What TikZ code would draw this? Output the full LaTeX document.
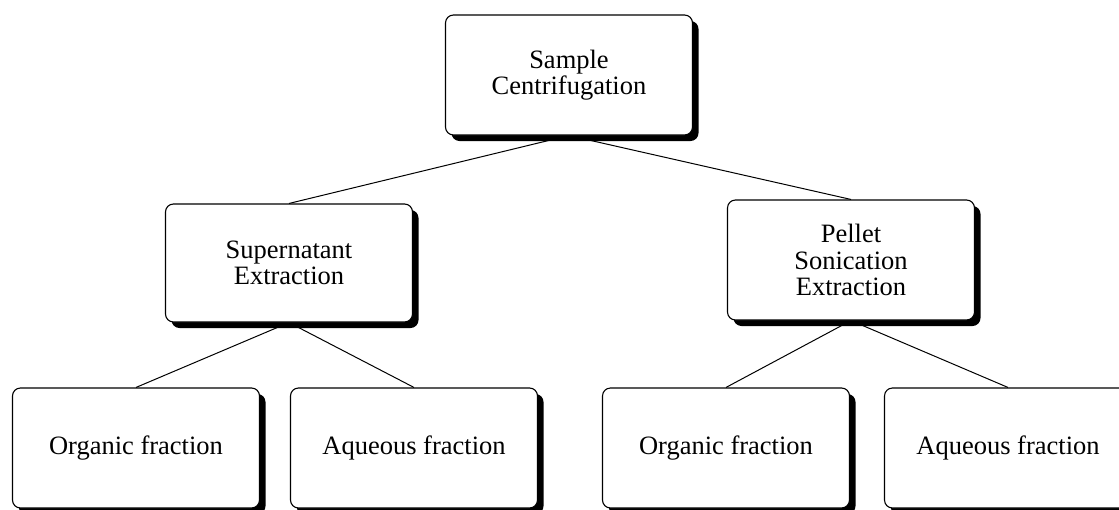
\documentclass[tikz,border=0pt]{standalone}
\usepackage{fontspec}
\setmainfont{Liberation Serif}
\usetikzlibrary{backgrounds,shadows,positioning}

\begin{document}
\begin{tikzpicture}[x=1pt, y=-1pt,
      main/.style = {draw, rounded corners=8pt, line width=1.1pt, fill=white,
        minimum width=247pt, minimum height=120pt, align=center,
        font=\fontsize{26.5}{26.5}\selectfont,
        drop shadow={shadow xshift=6pt, shadow yshift=-6pt, fill=black, opacity=1}},
      link/.style = {line width=1pt}]
      \clip (0,0) rectangle (1119,509);
      \node[main] (top) at (569,75) {Sample\\Centrifugation};
      \node[main, minimum height=118pt] (super) at (289,263) {Supernatant\\Extraction};
      \node[main] (pellet) at (851,260) {Pellet\\Sonication\\Extraction};
      \node[main] (org1) at (136,448) {Organic fraction};
      \node[main] (aq1) at (414,448) {Aqueous fraction};
      \node[main] (org2) at (726,448) {Organic fraction};
      \node[main] (aq2) at (1008,448) {Aqueous fraction};

      \begin{scope}[on background layer]
        \draw[link] (top.south) -- (super.north);
        \draw[link] (top.south) -- (pellet.north);
        \draw[link] (super.south) -- (org1.north);
        \draw[link] (super.south) -- (aq1.north);
        \draw[link] (pellet.south) -- (org2.north);
        \draw[link] (pellet.south) -- (aq2.north);
      \end{scope}
    \end{tikzpicture}
\end{document}
